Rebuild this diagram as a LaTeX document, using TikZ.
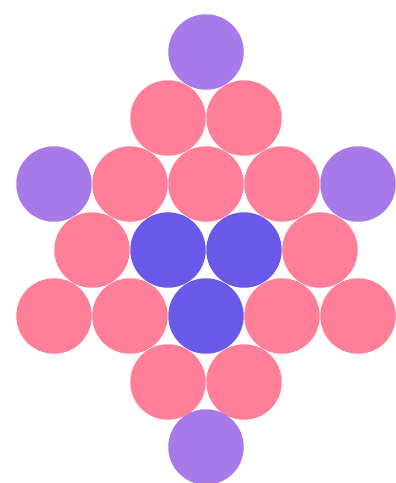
\documentclass[tikz,border=0pt]{standalone}
\usetikzlibrary{positioning}
\definecolor{ballpink}{RGB}{255,127,152}
\definecolor{ballpurple}{RGB}{167,121,233}
\definecolor{ballblue}{RGB}{106,89,232}

\begin{document}
\begin{tikzpicture}[
  x=1pt, y=-1pt,
  ball/.style={circle, inner sep=0pt, minimum size=75.5pt},
  pk/.style={ball, fill=ballpink},
  pu/.style={ball, fill=ballpurple},
  bl/.style={ball, fill=ballblue}
]
  \useasboundingbox (0,0) rectangle (396,483);
  % top
  \node[pu] (top) at (206,52) {};
  \node[pk] (r1a) at (168,118) {};
  \node[pk] (r1b) at (244,118) {};
  % upper wide row
  \node[pu] (r2a) at (54,184) {};
  \node[pk] (r2b) at (130,184) {};
  \node[pk] (r2c) at (206,184) {};
  \node[pk] (r2d) at (282,184) {};
  \node[pu] (r2e) at (358,184) {};
  % middle
  \node[pk] (r3a) at (92,250) {};
  \node[bl] (r3b) at (168,250) {};
  \node[bl] (r3c) at (244,250) {};
  \node[pk] (r3d) at (320,250) {};
  % lower wide row
  \node[pk] (r4a) at (54,316) {};
  \node[pk] (r4b) at (130,316) {};
  \node[bl] (r4c) at (206,316) {};
  \node[pk] (r4d) at (282,316) {};
  \node[pk] (r4e) at (358,316) {};
  % bottom
  \node[pk] (r5a) at (168,382) {};
  \node[pk] (r5b) at (244,382) {};
  \node[pu] (bot) at (206,447) {};
\end{tikzpicture}
\end{document}
